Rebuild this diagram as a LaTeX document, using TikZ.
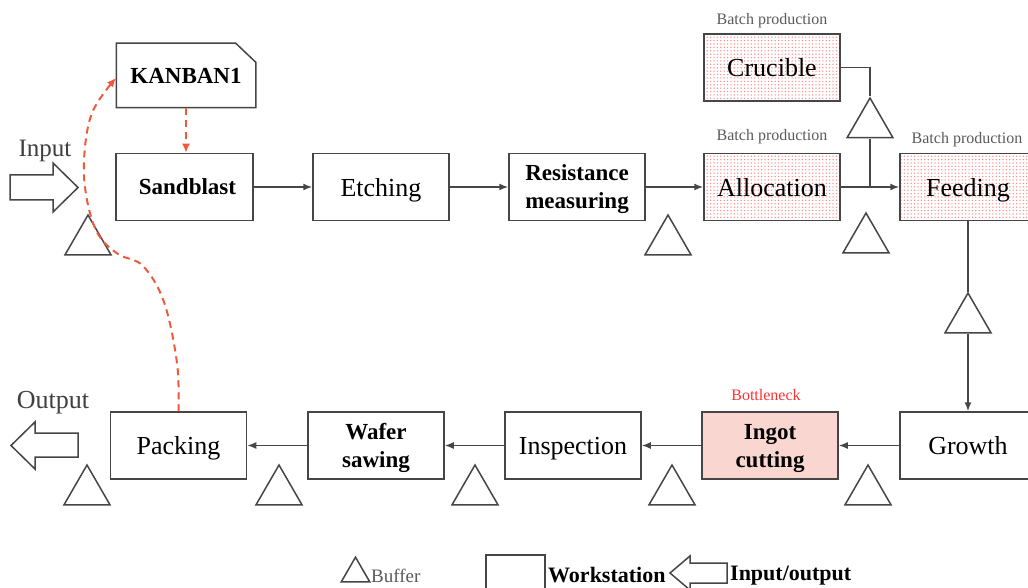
\documentclass[tikz,border=0pt]{standalone}
\usepackage{fontspec}
\setmainfont{Liberation Serif}
\usetikzlibrary{arrows.meta,shapes.geometric,patterns}
\definecolor{lc}{RGB}{70,70,70}
\definecolor{kred}{RGB}{240,90,60}
\definecolor{lbc}{RGB}{90,90,90}
\definecolor{bneck}{RGB}{255,50,50}
\definecolor{ingotfill}{RGB}{249,214,207}
\pgfdeclarepatternformonly{rdots}{\pgfqpoint{-1pt}{-1pt}}{\pgfqpoint{1pt}{1pt}}{\pgfqpoint{3.4pt}{3.4pt}}{\pgfpathcircle{\pgfqpoint{0pt}{0pt}}{0.75pt}\pgfusepath{fill}}
\begin{document}
\begin{tikzpicture}[x=1pt,y=-1pt,
  ws/.style={draw=lc, line width=1.5pt, minimum width=136pt, minimum height=67pt, inner sep=0pt, align=center, text depth=0pt, font=\fontsize{26}{28}\selectfont},
  bws/.style={ws, font=\fontsize{23}{28}\selectfont\bfseries},
  batch/.style={pattern=rdots, pattern color=red!45},
  buf/.style={draw=lc, line width=1.5pt, regular polygon, regular polygon sides=3, minimum size=53pt, inner sep=0pt},
  flow/.style={draw=lc, line width=1.5pt, -{Latex[length=9pt,width=7pt]}},
  plain/.style={draw=lc, line width=1.5pt},
  kan/.style={draw=kred, line width=2pt, dash pattern=on 7pt off 5pt},
  lbl/.style={font=\fontsize{16}{18}\selectfont, text=lbc, inner sep=0pt},
  bigtxt/.style={font=\fontsize{25}{27}\selectfont, text=lbc!70!black, inner sep=0pt},
  legtxt/.style={font=\fontsize{22}{24}\selectfont\bfseries, inner sep=0pt, anchor=base west}
]
\clip (0,0) rectangle (1028,588);
\fill[white] (0,0) rectangle (1028,588);

% workstations
\node[ws, minimum width=138pt, minimum height=63pt, draw=none, font=\fontsize{23}{25}\selectfont\bfseries] (kanban) at (186,75.5) {KANBAN1};
\draw[plain] (kanban.north west) -- ([xshift=-20pt]kanban.north east) -- ([yshift=-19pt]kanban.north east) -- (kanban.south east) -- (kanban.south west) -- cycle;

\node[bws, minimum width=137pt] (sand) at (184.5,187) {\hspace*{6pt}Sandblast};
\node[ws] (etch) at (381,187) {Etching};
\node[bws] (res) at (577,187) {Resistance\\measuring};
\node[ws, batch] (alloc) at (772,187) {Allocation};
\node[ws, batch] (cruc) at (772,67.5) {Crucible};
\node[ws, batch] (feed) at (968,187) {Feeding};
\node[ws] (growth) at (968,445.5) {Growth};
\node[bws, fill=ingotfill] (ingot) at (770,445.5) {Ingot\\cutting};
\node[ws] (insp) at (573,445.5) {Inspection};
\node[bws] (wafer) at (376,445.5) {Wafer\\sawing};
\node[ws] (pack) at (178.5,445.5) {Packing};

% labels
\node[lbl] (b1) at (772,21) {Batch production};
\node[lbl] (b2) at (772,137) {Batch production};
\node[lbl] (b3) at (967,140) {Batch production};
\node[lbl, text=bneck] (bn) at (766,395) {Bottleneck};
\node[bigtxt] (inl) at (45,151) {Input};
\node[bigtxt, font=\fontsize{26}{28}\selectfont] (outl) at (53,403) {Output};

% buffers
\node[buf] (bufIn) at (88,241.5) {};
\node[buf] (bufR) at (668,241.5) {};
\node[buf] (bufA) at (866,239.5) {};
\node[buf] (bufC) at (870,124.5) {};
\node[buf] (bufF) at (968,319.5) {};
\node[buf] (bufP) at (87,491.5) {};
\node[buf] (bufW) at (279,491.5) {};
\node[buf] (bufI) at (475,491.5) {};
\node[buf] (bufG) at (672,491.5) {};
\node[buf] (bufH) at (868,491.5) {};

% flows
\draw[flow] (sand.east) -- (etch.west);
\draw[flow] (etch.east) -- (res.west);
\draw[flow] (res.east) -- (alloc.west);
\draw[flow] (alloc.east) -- (feed.west);
\coordinate (J) at (bufC.south |- alloc.east);
\draw[plain] (cruc.east) -| (bufC.corner 1);
\draw[plain] (bufC.south) -- (J);
\draw[plain] (feed.south) -- (bufF.corner 1);
\draw[flow] (bufF.south) -- (growth.north);
\draw[flow] (growth.west) -- (ingot.east);
\draw[flow] (ingot.west) -- (insp.east);
\draw[flow] (insp.west) -- (wafer.east);
\draw[flow] (wafer.west) -- (pack.east);

% kanban loop
\draw[kan, -{Latex[length=9pt,width=8pt]}] (kanban.south) -- (kanban.south |- sand.north);
\draw[kan, -{Latex[length=9pt,width=8pt]}] plot[smooth, tension=0.6] coordinates {(pack.north) (177,363) (164,302) (143,266) (118,254) (98,234) (87,200) (84,160) (92,113) (116,78)};

% input / output arrows
\draw[plain] (10,175) -- (53,175) -- (53,163) -- (78,187.5) -- (53,212) -- (53,200) -- (10,200) -- cycle;
\draw[plain] (78,433) -- (35,433) -- (35,422) -- (11,445.5) -- (35,469) -- (35,457) -- (78,457) -- cycle;

% legend
\node[draw=lc, line width=1.5pt, regular polygon, regular polygon sides=3, minimum size=33pt, inner sep=0pt] (legbuf) at (355.5,573.7) {};
\node[font=\fontsize{19}{21}\selectfont, text=lbc, inner sep=0pt, anchor=base west] (legbuft) at (371,582) {Buffer};
\node[draw=lc, line width=1.5pt, minimum width=59pt, minimum height=40pt, inner sep=0pt] (legws) at (515.5,575) {};
\node[legtxt] (legwst) at (548,582) {Workstation};
\draw[plain] (727,563) -- (690,563) -- (690,556) -- (670,573) -- (690,590) -- (690,583) -- (727,583) -- cycle;
\node[legtxt] (legio) at (730,580) {Input/output};
\end{tikzpicture}
\end{document}
